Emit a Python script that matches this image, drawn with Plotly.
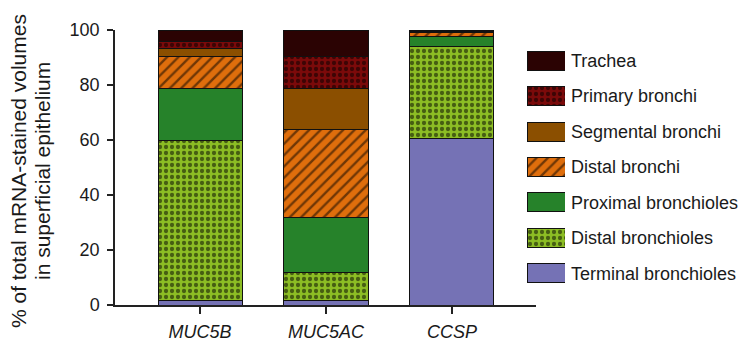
import plotly.graph_objects as go

categories = ["MUC5B", "MUC5AC", "CCSP"]
regions = ["Terminal bronchioles", "Distal bronchioles", "Proximal bronchioles",
           "Distal bronchi", "Segmental bronchi", "Primary bronchi", "Trachea"]
terminal_bronchioles = [1.5, 1.5, 60.4]
distal_bronchioles = [58.5, 10.4, 33.5]
proximal_bronchioles = [18.8, 20.1, 3.9]
distal_bronchi = [11.7, 32.0, 1.4]
segmental_bronchi = [2.8, 14.8, 0.4]
primary_bronchi = [2.7, 11.5, 0.2]
trachea = [4.0, 9.7, 0.2]
series_values = [terminal_bronchioles, distal_bronchioles, proximal_bronchioles,
                 distal_bronchi, segmental_bronchi, primary_bronchi, trachea]
y_ticks = [0, 20, 40, 60, 80, 100]
y_title_lines = ["% of total mRNA-stained volumes", "in superficial epithelium"]

colors = ["#7572b5", "#8cbd24", "#26822a", "#df6e0c", "#8b4f00", "#7b0a0a", "#2b0303"]
patterns = ["", ".", "", "/", "", ".", ""]
pat_size = [8, 6, 8, 8, 8, 6, 8]
pat_sol = [0.3, 0.4, 0.3, 0.3, 0.3, 0.4, 0.3]

FONT = "Arial, Liberation Sans, Helvetica, sans-serif"
fig = go.Figure()

for name, vals, c, p, s, so in zip(regions, series_values, colors, patterns, pat_size, pat_sol):
    fig.add_trace(go.Bar(
        x=categories, y=vals, name=name, width=0.667,
        marker=dict(color=c, line=dict(color="#111111", width=1),
                    pattern=dict(shape=p, fgcolor="black", fillmode="overlay", size=s, solidity=so)),
        showlegend=False, xaxis="x", yaxis="y"))

# custom legend swatches (one bar per region on a hidden axis)
for name, c, p, s, so in zip(regions, colors, patterns, pat_size, pat_sol):
    fig.add_trace(go.Bar(
        x=[1], y=[name], orientation="h", width=0.54,
        marker=dict(color=c, line=dict(color="#111111", width=1),
                    pattern=dict(shape=p, fgcolor="black", fillmode="overlay",
                                 size=s, solidity=so)),
        showlegend=False, xaxis="x2", yaxis="y2", hoverinfo="skip"))

# page body has an 8px offset
OFF = 8
W, H = 747 - OFF, 343 - OFF
L, R, T, B = 115 - OFF, 0, 30 - OFF, 38
pw = W - L - R
ph = H - T - B


def px_x(sx):
    return (sx - OFF - L) / pw


def px_y(sy):
    return (H - B - (sy - OFF)) / ph


fig.update_layout(
    width=W, height=H, barmode="stack",
    margin=dict(l=L, r=R, t=T, b=B, autoexpand=False),
    paper_bgcolor="white", plot_bgcolor="white",
    font=dict(family=FONT, size=18, color="#1a1a1a"),
    xaxis=dict(domain=[0, px_x(536)], range=[-0.675, 2.667],
               showline=True, linecolor="#222222", linewidth=1.5,
               ticks="outside", ticklen=7, tickwidth=1.5, tickcolor="#222222",
               ticklabelstandoff=3,
               tickfont=dict(size=18, style="italic", family=FONT),
               showgrid=False, zeroline=False),
    yaxis=dict(range=[0, 100], tickvals=y_ticks,
               showline=True, linecolor="#222222", linewidth=1.5,
               ticks="outside", ticklen=6, tickwidth=1.5, tickcolor="#222222",
               ticklabelstandoff=4,
               tickfont=dict(size=18), showgrid=False, zeroline=False),
    xaxis2=dict(domain=[px_x(527), px_x(565)], range=[0, 1],
                visible=False, anchor="y2", fixedrange=True),
    yaxis2=dict(domain=[px_y(291), px_y(43)], range=[-0.5, 6.5],
                anchor="x2", side="right", showline=False, ticks="",
                showgrid=False, zeroline=False, ticklabelstandoff=5,
                tickfont=dict(size=18), categoryorder="array", categoryarray=regions),
)

for line, sx in zip(y_title_lines, [18, 42]):
    fig.add_annotation(text=line, xref="paper", yref="paper", x=px_x(sx), y=px_y(171),
                       xanchor="center", yanchor="middle", textangle=-90,
                       showarrow=False, font=dict(size=21, family=FONT, color="#1a1a1a"))

fig.write_html("out.html")
